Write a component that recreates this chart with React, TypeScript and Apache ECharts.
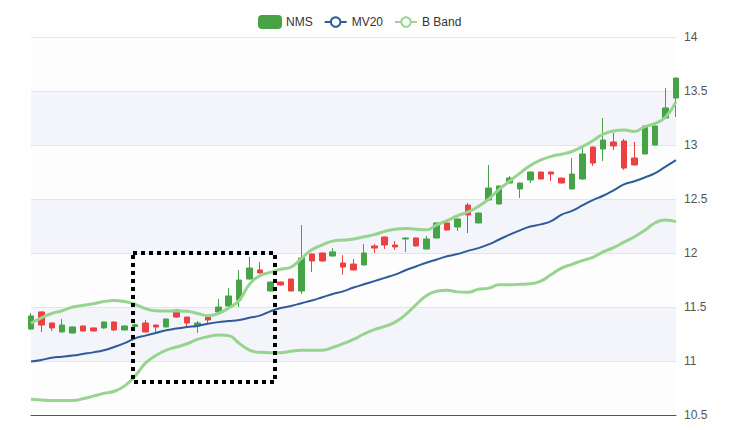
import React, { useEffect, useRef } from "react";
import * as echarts from "echarts";

// [open, close, low, high]
const candles: number[][] = [
  [11.296, 11.417, 11.29, 11.444],
  [11.454, 11.333, 11.269, 11.46],
  [11.352, 11.306, 11.278, 11.355],
  [11.269, 11.333, 11.265, 11.389],
  [11.259, 11.315, 11.255, 11.318],
  [11.324, 11.278, 11.275, 11.328],
  [11.306, 11.278, 11.275, 11.31],
  [11.306, 11.361, 11.3, 11.365],
  [11.361, 11.287, 11.278, 11.365],
  [11.287, 11.324, 11.285, 11.328],
  [11.32, 11.335, 11.3, 11.345],
  [11.352, 11.269, 11.265, 11.38],
  [11.333, 11.315, 11.269, 11.336],
  [11.315, 11.389, 11.31, 11.392],
  [11.472, 11.407, 11.4, 11.475],
  [11.407, 11.352, 11.315, 11.41],
  [11.324, 11.352, 11.26, 11.37],
  [11.407, 11.38, 11.35, 11.41],
  [11.454, 11.5, 11.45, 11.574],
  [11.509, 11.602, 11.5, 11.676],
  [11.565, 11.75, 11.5, 11.843],
  [11.759, 11.861, 11.755, 11.963],
  [11.843, 11.815, 11.81, 11.917],
  [11.648, 11.731, 11.645, 11.735],
  [11.731, 11.704, 11.7, 11.735],
  [11.759, 11.648, 11.645, 11.762],
  [11.648, 11.954, 11.62, 12.259],
  [11.991, 11.926, 11.824, 11.995],
  [12.0, 11.926, 11.92, 12.004],
  [11.972, 12.01, 11.968, 12.046],
  [11.907, 11.87, 11.8, 11.98],
  [11.898, 11.843, 11.84, 11.944],
  [11.889, 12.0, 11.885, 12.083],
  [12.065, 12.046, 12.0, 12.083],
  [12.148, 12.074, 12.037, 12.152],
  [12.074, 12.056, 12.03, 12.11],
  [12.13, 12.139, 12.009, 12.142],
  [12.139, 12.065, 12.06, 12.143],
  [12.037, 12.13, 12.033, 12.157],
  [12.139, 12.278, 12.135, 12.282],
  [12.278, 12.213, 12.208, 12.282],
  [12.241, 12.315, 12.204, 12.318],
  [12.444, 12.352, 12.185, 12.463],
  [12.278, 12.37, 12.275, 12.374],
  [12.491, 12.602, 12.487, 12.815],
  [12.454, 12.62, 12.45, 12.624],
  [12.648, 12.694, 12.644, 12.713],
  [12.593, 12.648, 12.51, 12.652],
  [12.676, 12.75, 12.648, 12.754],
  [12.75, 12.685, 12.68, 12.754],
  [12.75, 12.731, 12.667, 12.754],
  [12.694, 12.648, 12.644, 12.698],
  [12.593, 12.731, 12.589, 12.88],
  [12.685, 12.917, 12.68, 12.972],
  [12.981, 12.833, 12.806, 12.985],
  [12.963, 13.046, 12.852, 13.25],
  [13.028, 12.991, 12.954, 13.111],
  [13.037, 12.787, 12.769, 13.056],
  [12.88, 12.815, 12.81, 13.028],
  [12.917, 13.176, 12.913, 13.18],
  [13.0, 13.176, 12.996, 13.18],
  [13.25, 13.343, 13.245, 13.528],
  [13.435, 13.62, 13.259, 13.624],
];

const mv20: number[] = [
  10.995, 11.01, 11.03, 11.04, 11.05, 11.065, 11.08, 11.1, 11.13, 11.165,
  11.21, 11.235, 11.26, 11.285, 11.3, 11.315, 11.325, 11.345, 11.36, 11.37,
  11.38, 11.4, 11.42, 11.46, 11.49, 11.51, 11.535, 11.56, 11.59, 11.62,
  11.645, 11.68, 11.71, 11.74, 11.77, 11.8, 11.84, 11.875, 11.91, 11.94,
  11.97, 11.99, 12.02, 12.045, 12.08, 12.125, 12.17, 12.21, 12.245, 12.265,
  12.295, 12.355, 12.39, 12.44, 12.49, 12.53, 12.58, 12.635, 12.665, 12.7,
  12.74, 12.8, 12.86,
];

const bandUpper: number[] = [
  11.35, 11.4, 11.44, 11.465, 11.5, 11.515, 11.53, 11.55, 11.56, 11.55,
  11.525, 11.485, 11.465, 11.463, 11.463, 11.46, 11.44, 11.42, 11.44, 11.49,
  11.56, 11.71, 11.79, 11.82, 11.85, 11.87, 11.95, 12.03, 12.075, 12.11,
  12.12, 12.13, 12.15, 12.17, 12.2, 12.22, 12.228, 12.22, 12.215, 12.26,
  12.3, 12.345, 12.38, 12.43, 12.5, 12.59, 12.665, 12.74, 12.81, 12.86,
  12.895, 12.915, 12.94, 12.985, 13.04, 13.1, 13.13, 13.138, 13.125, 13.17,
  13.2, 13.26, 13.4,
];

const bandLower: number[] = [
  10.645, 10.64, 10.635, 10.635, 10.635, 10.65, 10.675, 10.7, 10.72, 10.77,
  10.86, 10.98, 11.05, 11.1, 11.13, 11.16, 11.2, 11.225, 11.24, 11.235,
  11.165, 11.1, 11.08, 11.077, 11.077, 11.09, 11.1, 11.1, 11.1, 11.125,
  11.16, 11.2, 11.25, 11.29, 11.32, 11.36, 11.43, 11.52, 11.605, 11.645,
  11.655, 11.64, 11.636, 11.664, 11.675, 11.705, 11.705, 11.71, 11.715, 11.74,
  11.8, 11.86, 11.895, 11.93, 11.96, 12.01, 12.05, 12.1, 12.15, 12.21,
  12.28, 12.305, 12.29,
];

const categories: string[] = candles.map((_, i) => String(i + 1));
const yTicks = { min: 10.5, max: 14, interval: 0.5 };

const UP = "#46a446";
const DOWN = "#ee4040";
const BAND = "#97d48f";
const MV = "#2d5b9c";

export default function App() {
  const ref = useRef<HTMLDivElement>(null);
  useEffect(() => {
    if (!ref.current) return;
    const chart = echarts.init(ref.current, null, { renderer: "svg" });
    chart.setOption({
      animation: false,
      textStyle: { fontFamily: "Liberation Sans, Arial, sans-serif" },
      legend: {
        top: 2,
        left: 245,
        itemWidth: 22,
        itemHeight: 12,
        itemGap: 11,
        textStyle: { color: "#333", fontSize: 12 },
        data: [
          { name: "NMS", icon: "roundRect" },
          { name: "MV20" },
          { name: "B Band" },
        ],
      },
      grid: { left: 23, right: 60, top: 29, bottom: 15 },
      xAxis: {
        type: "category",
        data: categories,
        boundaryGap: false,
        axisLine: { lineStyle: { color: "#555" } },
        axisTick: { show: false },
        axisLabel: { show: false },
        splitLine: { show: false },
      },
      yAxis: {
        type: "value",
        position: "right",
        min: yTicks.min,
        max: yTicks.max,
        interval: yTicks.interval,
        axisLine: { show: false },
        axisTick: { show: false },
        axisLabel: { color: "#555", fontSize: 12, margin: 8 },
        splitLine: { lineStyle: { color: "#e0e6f1" } },
        splitArea: {
          show: true,
          areaStyle: { color: ["rgba(250,250,250,0.3)", "rgba(210,219,238,0.27)"] },
        },
      },
      series: [
        {
          name: "NMS",
          type: "candlestick",
          data: candles,
          barWidth: 6,
          itemStyle: {
            color: UP,
            color0: DOWN,
            borderColor: UP,
            borderColor0: DOWN,
            borderWidth: 1,
          },
        },
        {
          name: "MV20",
          type: "line",
          data: mv20,
          smooth: true,
          showSymbol: false,
          color: MV,
          lineStyle: { width: 2, color: MV },
        },
        {
          name: "B Band",
          type: "line",
          data: bandUpper,
          smooth: true,
          showSymbol: false,
          color: BAND,
          lineStyle: { width: 3, color: BAND },
        },
        {
          name: "B Band",
          type: "line",
          data: bandLower,
          smooth: true,
          showSymbol: false,
          color: BAND,
          lineStyle: { width: 3, color: BAND },
        },
      ],
      graphic: [
        {
          type: "rect",
          shape: { x: 125, y: 245, width: 142, height: 129 },
          style: { fill: "none", stroke: "#000", lineWidth: 4, lineDash: [4, 4] },
          z: 100,
        },
      ],
    });
    return () => chart.dispose();
  }, []);
  return <div ref={ref} style={{ width: 728, height: 422 }} />;
}
